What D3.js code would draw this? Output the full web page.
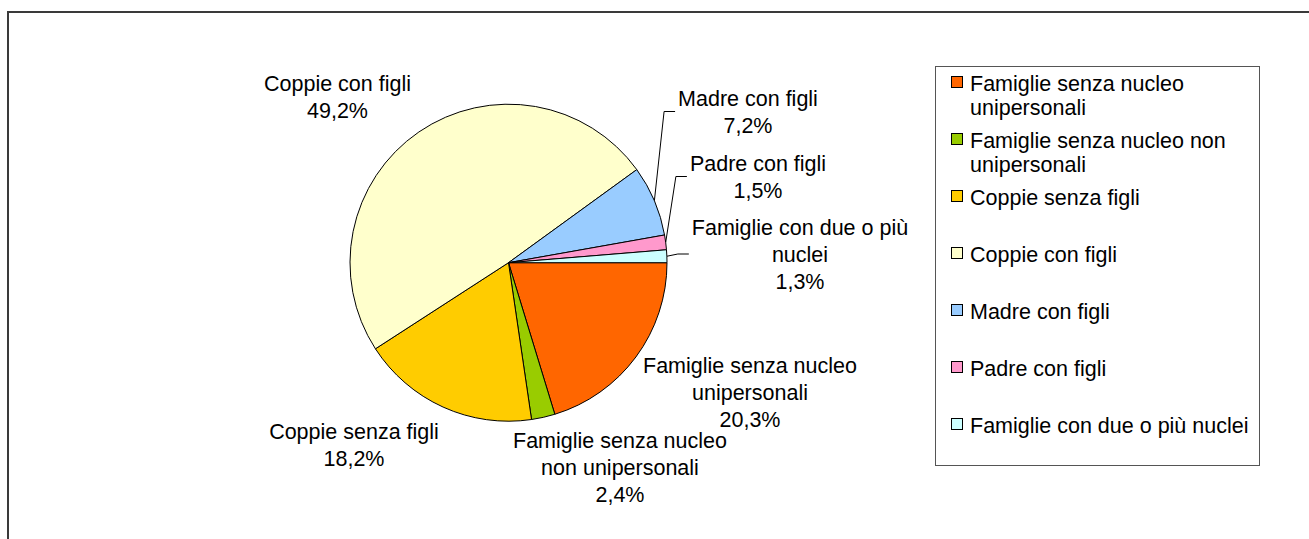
<!DOCTYPE html>
<html>
<head>
<meta charset="utf-8">
<script src="https://cdn.jsdelivr.net/npm/d3@7"></script>
<style>
  html, body { margin: 0; padding: 0; background: #fff; }
  svg { display: block; }
  text { font-family: Arial, "Liberation Sans", sans-serif; font-size: 21.5px; fill: #000; }
</style>
</head>
<body>
<script>
// dati
var categories = [
    'Famiglie senza nucleo unipersonali',
    'Famiglie senza nucleo non unipersonali',
    'Coppie senza figli',
    'Coppie con figli',
    'Madre con figli',
    'Padre con figli',
    'Famiglie con due o più nuclei'
];
var values = [20.3, 2.4, 18.2, 49.2, 7.2, 1.5, 1.3];
var valueLabels = ['20,3%', '2,4%', '18,2%', '49,2%', '7,2%', '1,5%', '1,3%'];
var colors = ['#FF6600', '#99CC00', '#FFCC00', '#FFFFCC', '#99CCFF', '#FF99CC', '#CCFFFF'];

// righe delle etichette (a capo come nel grafico)
var pieLabelLines = [
    ['Famiglie senza nucleo', 'unipersonali'],
    ['Famiglie senza nucleo', 'non unipersonali'],
    ['Coppie senza figli'],
    ['Coppie con figli'],
    ['Madre con figli'],
    ['Padre con figli'],
    ['Famiglie con due o più', 'nuclei']
];
var legendLines = [
    ['Famiglie senza nucleo', 'unipersonali'],
    ['Famiglie senza nucleo non', 'unipersonali'],
    ['Coppie senza figli'],
    ['Coppie con figli'],
    ['Madre con figli'],
    ['Padre con figli'],
    ['Famiglie con due o più nuclei']
];

window.onload = function(){

    var width = 1309, height = 539;
    var cx = 508.5, cy = 262.7, radius = 158.5;

    // posizione delle etichette rispetto al centro (centro x, prima riga y), e linee guida
    var labelLayout = [
        {dx: 241.5, dy: 102.3, leader: false},
        {dx: 111.5, dy: 177.3, leader: false},
        {dx: -154.5, dy: 168.3, leader: false},
        {dx: -171, dy: -179.7, leader: false},
        {dx: 239.5, dy: -164.7, leader: true},
        {dx: 249.5, dy: -99.7, leader: true},
        {dx: 291.5, dy: -35.7, leader: true}
    ];

    var svg = d3.select(document.body).append('svg')
        .attr('width', width)
        .attr('height', height);

    // cornice esterna
    svg.append('rect')
        .attr('x', 8).attr('y', 12)
        .attr('width', 1400).attr('height', 600)
        .attr('fill', 'none')
        .attr('stroke', '#3a3a3a')
        .attr('stroke-width', 2);

    var pie = d3.pie()
        .sort(null)
        .startAngle(Math.PI / 2)
        .endAngle(Math.PI / 2 + 2 * Math.PI)
        .value(function(d){ return d; });
    var arcs = pie(values);

    var arc = d3.arc().innerRadius(0).outerRadius(radius);

    var g = svg.append('g').attr('transform', 'translate(' + cx + ',' + cy + ')');

    g.selectAll('path.slice').data(arcs).enter()
        .append('path')
        .attr('class', 'slice')
        .attr('d', arc)
        .attr('fill', function(d, i){ return colors[i]; })
        .attr('stroke', '#000')
        .attr('stroke-width', 1)
        .attr('stroke-linejoin', 'round');

    // etichette
    var lineH = 27;
    arcs.forEach(function(a, i){
        var lay = labelLayout[i];
        var lines = pieLabelLines[i].concat([valueLabels[i]]);
        var t = g.append('text')
            .attr('text-anchor', 'middle');
        lines.forEach(function(s, k){
            t.append('tspan')
                .attr('x', lay.dx)
                .attr('y', lay.dy + k * lineH)
                .attr('dy', '0.35em')
                .text(s);
        });
        if (lay.leader) {
            var bb = t.node().getBBox();
            var mid = (a.startAngle + a.endAngle) / 2;
            var p0 = [radius * Math.sin(mid), -radius * Math.cos(mid)];
            var yMid = lay.dy + (lines.length - 1) * lineH / 2;
            var xEnd = bb.x - 3;
            var pts = [p0, [xEnd - 11, yMid], [xEnd, yMid]];
            g.append('path')
                .attr('d', d3.line()(pts))
                .attr('fill', 'none')
                .attr('stroke', '#000')
                .attr('stroke-width', 1);
        }
    });

    // legenda
    var legend = svg.append('g');
    legend.append('rect')
        .attr('x', 935.5).attr('y', 66.5)
        .attr('width', 324).attr('height', 399)
        .attr('fill', '#fff')
        .attr('stroke', '#555')
        .attr('stroke-width', 1);

    var rowY = d3.scaleLinear().domain([0, 6]).range([83, 425]);
    categories.forEach(function(c, i){
        var y = rowY(i);
        legend.append('rect')
            .attr('x', 951.5).attr('y', y - 6.5)
            .attr('width', 11).attr('height', 11)
            .attr('fill', colors[i])
            .attr('stroke', '#000')
            .attr('stroke-width', 1);
        var t = legend.append('text');
        legendLines[i].forEach(function(s, k){
            t.append('tspan')
                .attr('x', 970)
                .attr('y', y + k * 24)
                .attr('dy', '0.35em')
                .text(s);
        });
    });
};
</script>
</body>
</html>
